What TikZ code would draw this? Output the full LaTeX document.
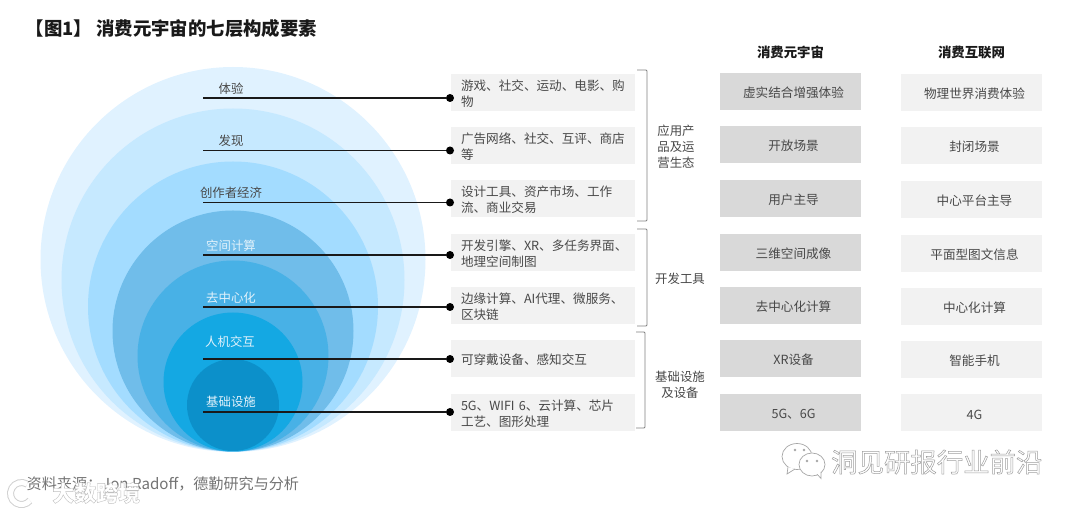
\documentclass[tikz,border=0pt]{standalone}
\usepackage{fontspec}
\setmainfont{Noto Sans CJK SC}
\usetikzlibrary{positioning}

\definecolor{ringa}{HTML}{E0F2FF}
\definecolor{ringb}{HTML}{C6E9FF}
\definecolor{ringc}{HTML}{A3DCFF}
\definecolor{ringd}{HTML}{70BDEA}
\definecolor{ringe}{HTML}{48B1E6}
\definecolor{ringf}{HTML}{14A8E3}
\definecolor{ringg}{HTML}{0C90CA}
\definecolor{txtgray}{HTML}{484848}

\tikzset{
  layertxt/.style={font=\fontsize{12.4}{15}\selectfont, text=txtgray, inner sep=0pt},
  layerwhite/.style={layertxt, text=white!80!ringd},
  itembox/.style={fill=black!5, text=txtgray, minimum width=184pt, minimum height=37pt,
    text width=164pt, inner xsep=10pt, inner ysep=0pt, align=left,
    font=\fontsize{12.6}{16.4}\selectfont, execute at begin node=\rule{0pt}{12.5pt}},
  metabox/.style={itembox, fill=black!15, minimum width=141pt, text width=141pt,
    inner xsep=0pt, align=center, execute at begin node=\hspace*{6pt}},
  webbox/.style={metabox, fill=black!5},
  grouptxt/.style={font=\fontsize{12.4}{16}\selectfont, text=txtgray, inner sep=0pt, align=center},
  headtxt/.style={font=\fontsize{13.4}{16}\selectfont\bfseries, text=black!90, inner sep=0pt},
  pindot/.style={circle, fill=black, inner sep=0pt, minimum size=8pt},
  leader/.style={line width=1.2pt, black!90},
  brace/.style={line width=0.8pt, black!50, rounded corners=1pt},
  bubble/.style={black!35, fill=white, line width=0.7pt},
}

\begin{document}
\begin{tikzpicture}[x=1pt, y=-1pt]
\useasboundingbox (0,0) rectangle (1080,510);

% ── Titulo ────────────────────────────────────────────────────
\node[anchor=west, inner sep=0pt, font=\fontsize{18.4}{20}\selectfont\bfseries, text=black!90]
    (title) at (25.5, 28.5) {【图1】 消费元宇宙的七层构成要素};

% ── Circulos ──────────────────────────────────────────────────
\fill[ringa] (233, 259.5) circle (192.5);
\fill[ringb] (233, 280) circle (171.5);
\fill[ringc] (233, 306.5) circle (145);
\fill[ringd] (233, 331) circle (120.5);
\fill[ringe] (233, 356) circle (95.5);
\fill[ringf] (233, 382) circle (69.5);
\fill[ringg] (233, 405) circle (46);

% ── Etiquetas de capa ─────────────────────────────────────────
\node[layertxt]  (lay1) at (231, 89)  {体验};
\node[layertxt]  (lay2) at (231, 141) {发现};
\node[layertxt]  (lay3) at (231, 193) {创作者经济};
\node[layerwhite] (lay4) at (231, 246) {空间计算};
\node[layerwhite] (lay5) at (231, 298) {去中心化};
\node[layerwhite] (lay6) at (230, 342) {人机交互};
\node[layerwhite] (lay7) at (231, 402) {基础设施};

% ── Cajas de la fila ──────────────────────────────────────────
\node[itembox] (item1) at (543, 92.5)  {游戏、社交、运动、电影、购\\物};
\node[itembox] (item2) at (543, 145.5) {广告网络、社交、互评、商店\\等};
\node[itembox] (item3) at (543, 198.5) {设计工具、资产市场、工作\\流、商业交易};
\node[itembox] (item4) at (543, 252.5) {开发引擎、XR、多任务界面、\\地理空间制图};
\node[itembox] (item5) at (543, 305.5) {边缘计算、AI代理、微服务、\\区块链};
\node[itembox] (item6) at (543, 358.5) {可穿戴设备、感知交互};
\node[itembox] (item7) at (543, 412.5) {5G、WIFI 6、云计算、芯片\\工艺、图形处理};

% ── Lineas ────────────────────────────────────────────────────
\coordinate (from1) at (203, 98);
\coordinate (from2) at (203, 150.5);
\coordinate (from3) at (203, 202.5);
\coordinate (from4) at (203, 255);
\coordinate (from5) at (203, 307);
\coordinate (from6) at (203, 359);
\coordinate (from7) at (203, 412);
\node[pindot] (pin1) at (450, 98) {};
\node[pindot] (pin2) at (450, 150.5) {};
\node[pindot] (pin3) at (450, 202.5) {};
\node[pindot] (pin4) at (450, 255) {};
\node[pindot] (pin5) at (450, 307) {};
\node[pindot] (pin6) at (450, 359) {};
\node[pindot] (pin7) at (450, 412) {};
\draw[leader] (from1) -- (pin1);
\draw[leader] (from2) -- (pin2);
\draw[leader] (from3) -- (pin3);
\draw[leader] (from4) -- (pin4);
\draw[leader] (from5) -- (pin5);
\draw[leader] (from6) -- (pin6);
\draw[leader] (from7) -- (pin7);

% ── Corchetes ─────────────────────────────────────────────────
\draw[brace] (637, 70) -- (647, 70) -- (647, 221) -- (637, 221);
\draw[brace] (637, 229) -- (647, 229) -- (647, 326) -- (637, 326);
\draw[brace] (636, 332) -- (645, 332) -- (645, 428) -- (636, 428);
\node[grouptxt] (grp1) at (676, 147) {应用产\\品及运\\营生态};
\node[grouptxt] (grp2) at (680, 279) {开发工具};
\node[grouptxt] (grp3) at (680, 384.5) {基础设施\\及设备};

% ── Columnas ──────────────────────────────────────────────────
\node[headtxt] (headmeta) at (790.5, 52) {消费元宇宙};
\node[headtxt] (headweb)  at (971.5, 52) {消费互联网};

\node[metabox] (meta1) at (790.5, 92)  {虚实结合增强体验};
\node[metabox] (meta2) at (790.5, 145) {开放场景};
\node[metabox] (meta3) at (790.5, 198.5) {用户主导};
\node[metabox] (meta4) at (790.5, 252.5) {三维空间成像};
\node[metabox] (meta5) at (790.5, 306) {去中心化计算};
\node[metabox] (meta6) at (790.5, 358.5) {XR设备};
\node[metabox] (meta7) at (790.5, 412.5) {5G、6G};

\node[webbox] (web1) at (971.5, 92.5)  {物理世界消费体验};
\node[webbox] (web2) at (971.5, 145.5) {封闭场景};
\node[webbox] (web3) at (971.5, 200)   {中心平台主导};
\node[webbox] (web4) at (971.5, 253.5) {平面型图文信息};
\node[webbox] (web5) at (971.5, 306.5) {中心化计算};
\node[webbox] (web6) at (971.5, 360)   {智能手机};
\node[webbox] (web7) at (971.5, 413)   {4G};

% ── Fuente ────────────────────────────────────────────────────
\node[anchor=west, inner sep=0pt, font=\fontsize{15.1}{18}\selectfont, text=black!55]
    (source) at (26.5, 484) {资料来源：Jon Radoff，德勤研究与分析};

% ── Marcas de agua ────────────────────────────────────────────
\node[anchor=west, inner sep=0pt, font=\fontsize{26.4}{30}\selectfont, text=white]
    (mark1) at (831, 462) {\special{pdf:code q 2 Tr 0.5 w 0.62 G}洞见研报行业前沿\special{pdf:code Q}};
\node[anchor=west, inner sep=0pt, font=\fontsize{22}{26}\selectfont\bfseries, text=white]
    (mark2) at (52, 493) {\special{pdf:code q 2 Tr 0.4 w 0.75 G}大数跨境\special{pdf:code Q}};
% burbujas
\draw[bubble] (797, 456.5) ellipse (15 and 13);
\draw[bubble] (788, 467) -- (787, 474) -- (795, 469);
\draw[bubble] (812, 464.5) ellipse (13 and 11.5);
\draw[bubble] (817, 474) -- (821, 478.5) -- (821, 472);
\fill[white] (815, 472) -- (820, 476) -- (820, 471) -- cycle;
\fill[black!35] (795, 450) circle (1.4) (804, 450) circle (1.4) (807, 461) circle (1.3) (817, 461) circle (1.3);
% logo
\draw[black!18, line width=7pt] (27, 484) arc[start angle=-60, end angle=-320, radius=11];
\draw[white, line width=5pt] (27, 484) arc[start angle=-60, end angle=-320, radius=11];

\end{tikzpicture}
\end{document}
